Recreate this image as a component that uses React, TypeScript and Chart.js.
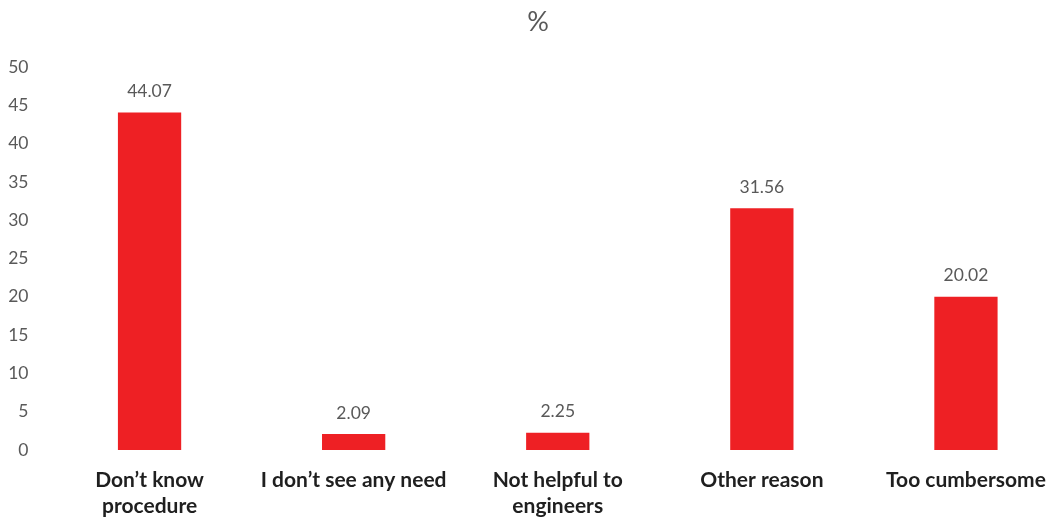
import React, { useEffect, useRef } from "react";
import { Chart, registerables } from "chart.js";

Chart.register(...registerables);

const categories: (string | string[])[] = [
  ["Don’t know", "procedure"],
  "I don’t see any need",
  ["Not helpful to", "engineers"],
  "Other reason",
  "Too cumbersome",
];
const values: number[] = [44.07, 2.09, 2.25, 31.56, 20.02];
const titleText = "%";

const FONT = "Lato, 'Open Sans', sans-serif";
const GRAY = "#595959";
const RED = "#EE2024";

const valueLabels = {
  id: "valueLabels",
  afterDatasetsDraw(chart: any) {
    const ctx = chart.ctx;
    const meta = chart.getDatasetMeta(0);
    ctx.save();
    ctx.font = `17.5px ${FONT}`;
    ctx.fillStyle = GRAY;
    ctx.textAlign = "center";
    ctx.textBaseline = "middle";
    meta.data.forEach((bar: any, i: number) => {
      ctx.fillText(values[i].toFixed(2), bar.x, bar.y - 21);
    });
    ctx.restore();
  },
};

export default function App() {
  const ref = useRef<HTMLCanvasElement | null>(null);
  useEffect(() => {
    if (!ref.current) return;
    const chart = new Chart(ref.current, {
      type: "bar",
      data: {
        labels: categories,
        datasets: [
          {
            data: values,
            backgroundColor: RED,
            borderWidth: 0,
            categoryPercentage: 1,
            barPercentage: 0.31,
          },
        ],
      },
      options: {
        animation: false,
        responsive: true,
        maintainAspectRatio: false,
        layout: { padding: { left: 0, right: 0, top: 0, bottom: 0 } },
        plugins: {
          legend: { display: false },
          tooltip: { enabled: false },
          title: {
            display: true,
            text: titleText,
            color: GRAY,
            font: { family: FONT, size: 27, weight: "normal", lineHeight: 1 },
            padding: { top: 1, bottom: 31 },
          },
        },
        scales: {
          x: {
            grid: { display: false, drawTicks: false },
            border: { display: false },
            ticks: {
              color: "#1F1F1F",
              font: { family: FONT, size: 21, weight: "bold", lineHeight: 26 / 21 },
              padding: 17,
              maxRotation: 0,
              autoSkip: false,
            },
            afterFit(scale: any) {
              scale.height = 67;
            },
          },
          y: {
            min: 0,
            max: 50,
            grid: { display: false, drawTicks: false },
            border: { display: false },
            ticks: {
              stepSize: 5,
              color: GRAY,
              font: { family: FONT, size: 17.5 },
              padding: 19,
            },
            afterFit(scale: any) {
              scale.width = 39.5;
            },
          },
        },
      },
      plugins: [valueLabels],
    });
    return () => chart.destroy();
  }, []);
  return (
    <div style={{ width: 1040, height: 509, overflow: "hidden", position: "relative" }}>
      <div style={{ width: 1060, height: 509, position: "relative" }}>
        <canvas ref={ref} />
      </div>
    </div>
  );
}
